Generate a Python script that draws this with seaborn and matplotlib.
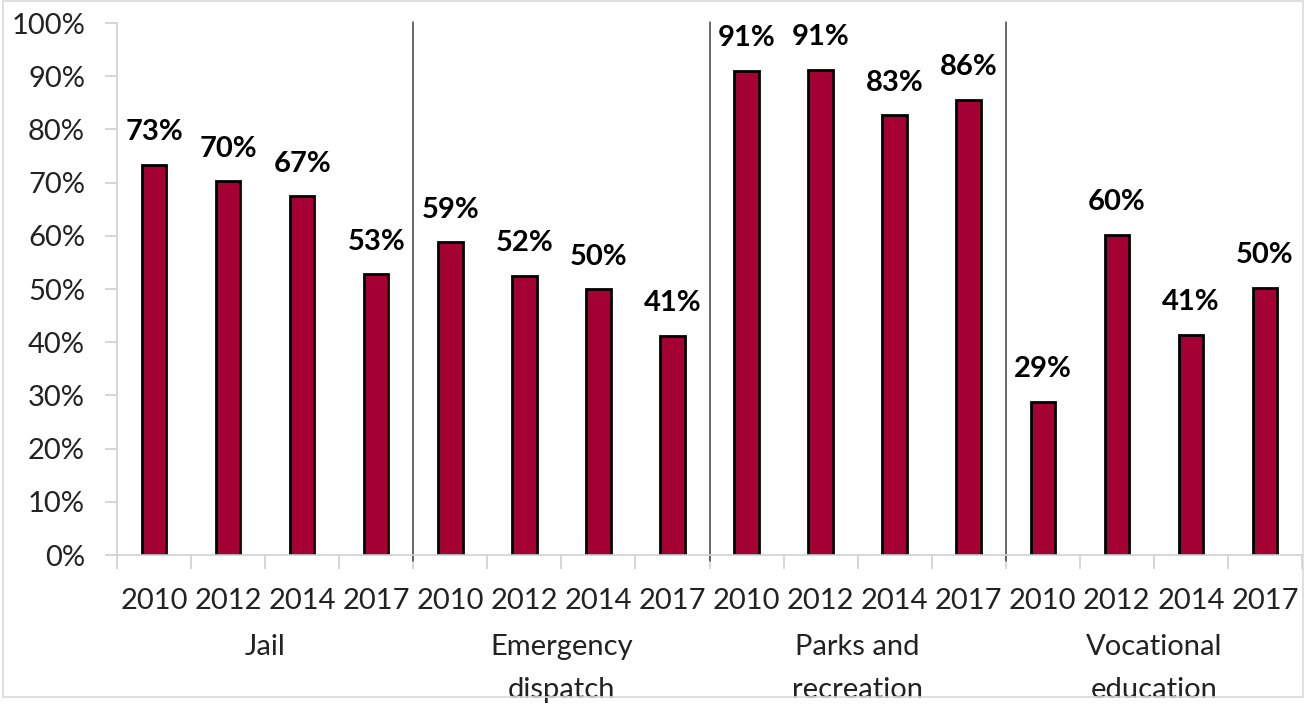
import numpy as np
import pandas as pd
import matplotlib
matplotlib.use("Agg")
import matplotlib.pyplot as plt
import seaborn as sns
from matplotlib.patches import Rectangle

# data
categories = ["Jail", "Emergency\ndispatch", "Parks and\nrecreation", "Vocational\neducation"]
years = ["2010", "2012", "2014", "2017"]
jail = [73.4, 70.3, 67.4, 52.8]
emergency = [58.8, 52.5, 50.0, 41.2]
parks = [91.0, 91.2, 82.7, 85.6]
vocational = [28.8, 60.2, 41.4, 50.2]

series = [jail, emergency, parks, vocational]
rows = []
for cat, vals in zip(categories, series):
    for yr, v in zip(years, vals):
        rows.append({"category": cat, "year": yr, "slot": f"{cat}|{yr}", "value": v})
df = pd.DataFrame(rows)

sns.set_style("white")
plt.rcParams["font.family"] = ["Lato", "DejaVu Sans"]
fs = 21

fig = plt.figure(figsize=(13.06, 7.04), dpi=100)
ax = fig.add_axes([117 / 1306, 1 - 555 / 704, (1302 - 117) / 1306, (555 - 23) / 704])

bar_color = "#A50034"
sns.barplot(data=df, x="slot", y="value", order=list(df["slot"]), color=bar_color,
            width=0.33, edgecolor="black", linewidth=2, saturation=1, ax=ax)

ax.set_ylim(0, 100)
ax.set_xlim(-0.5, len(df) - 0.5)
ax.set_yticks(np.arange(0, 101, 10))
ax.set_yticklabels([f"{t}%" for t in range(0, 101, 10)], fontsize=fs, color="#222222")
ax.tick_params(axis="y", length=9, width=1.2, color="#d0d0d0", pad=14, left=True)

# year labels at bar centres, tick marks at slot boundaries
ax.set_xticks(np.arange(len(df)))
ax.set_xticklabels(list(df["year"]), fontsize=fs, color="#222222")
ax.tick_params(axis="x", length=0, pad=24)
ax.set_xticks(np.arange(-0.5, len(df)), minor=True)
ax.tick_params(axis="x", which="minor", length=10, width=1.2, color="#d0d0d0", bottom=True)
ax.set_xlabel("")
ax.set_ylabel("")

for side in ["top", "right"]:
    ax.spines[side].set_visible(False)
for side in ["left", "bottom"]:
    ax.spines[side].set_color("#d0d0d0")
    ax.spines[side].set_linewidth(1.2)

# value labels
labels = [f"{round(v)}%" for v in df["value"]]
ax.bar_label(ax.containers[0], labels=labels, padding=14, fontsize=fs, fontweight="bold", color="black")

# group separators and group names
n = len(years)
for g in range(1, len(categories)):
    xpos = g * n - 0.5
    ax.plot([xpos, xpos], [-1.2, 100.2], color="#404040", linewidth=1.1, clip_on=False)
for g, cat in enumerate(categories):
    xc = g * n + (n - 1) / 2
    ax.text(xc, -14.9, cat, ha="center", va="top", fontsize=fs, color="#222222",
            linespacing=1.8)

# light outer frame
fig.patches.append(Rectangle((3 / 1306, 1 - 697 / 704), 1 - 6 / 1306, 697 / 704 - 0.001,
                             transform=fig.transFigure, fill=False, edgecolor="#d9d9d9", linewidth=1.2))

fig.savefig("out.png", dpi=100)
